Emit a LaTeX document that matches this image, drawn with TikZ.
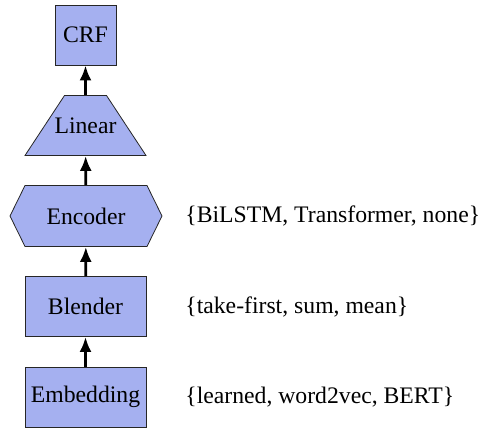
\documentclass[tikz,border=0pt]{standalone}
\usepackage{fontspec}
\setmainfont{Liberation Serif}
\usetikzlibrary{shapes.symbols,arrows.meta}
\definecolor{layerblue}{RGB}{165,176,240}
\tikzset{
  layer/.style={draw=black!85, fill=layerblue, inner sep=2pt,
    font=\fontsize{11.85pt}{14pt}\selectfont},
  boxlayer/.style={layer, rectangle, minimum width=60.5pt, minimum height=30pt},
  hexa/.style={layer, signal, signal to=west and east, signal pointer angle=127.6,
    minimum width=76pt, minimum height=30.5pt},
  choice/.style={anchor=west, inner sep=0pt, font=\fontsize{11.85pt}{14pt}\selectfont},
  flow/.style={line width=1.4pt, -{Latex[length=7.5pt,width=6pt]}}
}
\begin{document}
\begin{tikzpicture}[x=1pt,y=1pt]
\useasboundingbox (0,0) rectangle (239,-214);
\node[boxlayer, minimum width=30.5pt] (crf) at (42.75,-17.5) {CRF};
% linear layer: trapezoid drawn directly, text node on top
\filldraw[draw=black!85, fill=layerblue] (12.5,-77.75) -- (73,-77.75) -- (53.25,-47.75) -- (32.25,-47.75) -- cycle;
\node[font=\fontsize{11.85pt}{14pt}\selectfont, minimum width=60.5pt, minimum height=30pt, inner sep=0pt] (lin) at (42.75,-62.75) {Linear};
\draw[flow] (lin) -- (crf);
\node[hexa] (enc) at (43,-108) {Encoder};
\draw[flow] (enc) -- (lin);
\node[boxlayer] (blend) at (42.75,-153.25) {Blender};
\draw[flow] (blend) -- (enc);
\node[boxlayer] (emb) at (42.75,-198.5) {Embedding};
\draw[flow] (emb) -- (blend);
% options per layer
\node[choice] (encopt) at (92.5,-108) {\{BiLSTM, Transformer, none\}};
\node[choice] (blendopt) at (92.5,-153.25) {\{take-first, sum, mean\}};
\node[choice] (embopt) at (92.5,-198.5) {\{learned, word2vec, BERT\}};
\end{tikzpicture}
\end{document}
